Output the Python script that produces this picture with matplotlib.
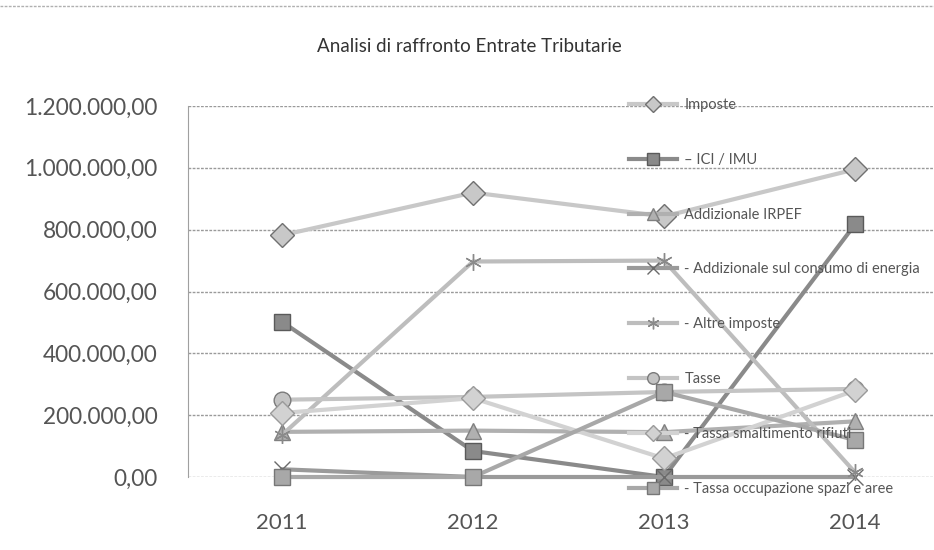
import numpy as np
import matplotlib.pyplot as plt

anni = ['2011', '2012', '2013', '2014']

imposte = [782000, 920000, 843000, 995000]
ici_imu = [502000, 84000, 0, 817000]
add_irpef = [146000, 150000, 145000, 180000]
add_energia = [25000, 0, 0, 0]
altre_imposte = [136000, 697000, 700000, 15000]
tasse = [250000, 259000, 275000, 285000]
tassa_rifiuti = [207000, 255000, 60000, 280000]
tassa_spazi = [0, 0, 275000, 120000]

serie = [
    ('Imposte', imposte, 'D', '#c8c8c8', '#707070'),
    ('\u2013 ICI / IMU', ici_imu, 's', '#8a8a8a', '#5a5a5a'),
    ('Addizionale IRPEF', add_irpef, '^', '#b0b0b0', '#808080'),
    ('- Addizionale sul consumo di energia', add_energia, 'x', '#9a9a9a', '#6a6a6a'),
    ('- Altre imposte', altre_imposte, (6, 2, 0), '#bdbdbd', '#8a8a8a'),
    ('Tasse', tasse, 'o', '#c4c4c4', '#7a7a7a'),
    ('- Tassa smaltimento rifiuti', tassa_rifiuti, 'D', '#d2d2d2', '#9a9a9a'),
    ('- Tassa occupazione spazi e aree', tassa_spazi, 's', '#a8a8a8', '#777777'),
]

plt.rcParams['font.family'] = ['Lato', 'DejaVu Sans']

fig = plt.figure(figsize=(9.34, 5.5), dpi=100)
ax = fig.add_axes([188 / 934, 1 - 477 / 550, 1 - 188 / 934, (477 - 106) / 550])

x = np.arange(len(anni))
for nome, valori, marker, colore, bordo in serie:
    ax.plot(x, valori, color=colore, lw=3, marker=marker, markersize=12,
            markerfacecolor=colore, markeredgecolor=bordo, markeredgewidth=1.0,
            label=nome, clip_on=False, zorder=3)

ax.set_ylim(0, 1200000)
ax.set_yticks(np.arange(0, 1200001, 200000))
ax.set_yticklabels(['{:,.2f}'.format(v).replace(',', 'X').replace('.', ',').replace('X', '.')
                    for v in np.arange(0, 1200001, 200000)])
ax.set_xlim(-(282 - 188) / 191, (934 - 282) / 191)
ax.set_xticks(x)
ax.set_xticklabels(anni)

ax.grid(axis='y', color='#9a9a9a', lw=1.0, ls=(0, (2, 1)))
ax.set_axisbelow(True)
for s in ['top', 'right', 'bottom']:
    ax.spines[s].set_visible(False)
ax.spines['left'].set_color('#a0a0a0')
ax.tick_params(axis='y', length=0, pad=22, labelsize=16.3, labelcolor='#555555')
ax.tick_params(axis='x', length=0, pad=26, labelsize=16, labelcolor='#555555')

fig.text(0.503, 1 - 47 / 550, 'Analisi di raffronto Entrate Tributarie',
         ha='center', va='center', fontsize=13.5, color='#333333')
fig.add_artist(plt.Line2D([0, 1], [1 - 6 / 550, 1 - 6 / 550], color='#b0b0b0',
                          lw=1, ls=(0, (2, 1))))

fig.legend(loc='upper left', bbox_to_anchor=(629 / 934, 1 - 98 / 550),
           frameon=False, fontsize=10.5, handlelength=3.3, handletextpad=0.5,
           labelspacing=2.8, borderpad=0, borderaxespad=0, labelcolor='#555555',
           markerscale=0.7)

fig.savefig('out.png', dpi=100)
